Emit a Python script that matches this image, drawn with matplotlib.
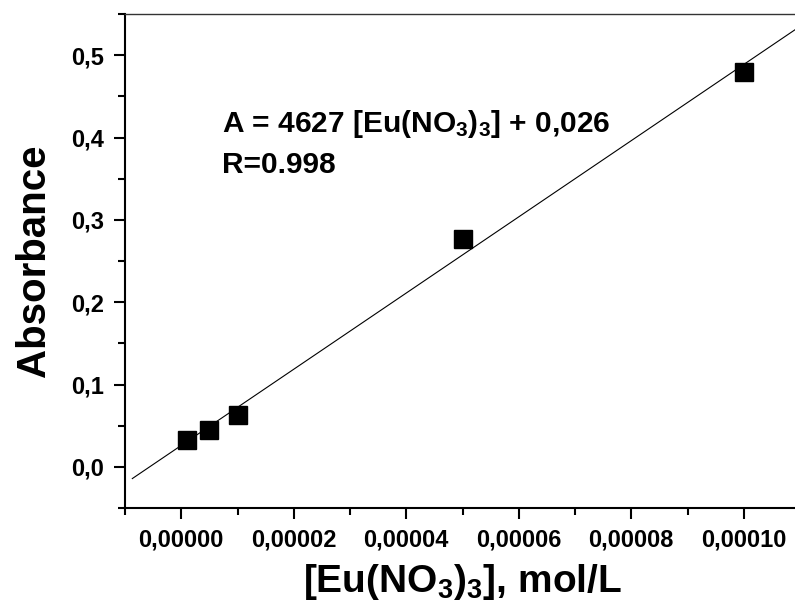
import matplotlib
matplotlib.use("Agg")
import matplotlib.pyplot as plt
import numpy as np
from matplotlib.ticker import MultipleLocator, FuncFormatter

plt.rcParams['font.family'] = ['Liberation Sans', 'DejaVu Sans']
plt.rcParams['font.weight'] = 'bold'
plt.rcParams['mathtext.fontset'] = 'custom'
plt.rcParams['mathtext.rm'] = 'Liberation Sans:bold'
plt.rcParams['mathtext.it'] = 'Liberation Sans:bold'
plt.rcParams['mathtext.bf'] = 'Liberation Sans:bold'
plt.rcParams['mathtext.default'] = 'rm'

# measured data
conc = [1e-6, 5e-6, 1e-5, 5e-5, 1e-4]
absorb = [0.033, 0.045, 0.063, 0.277, 0.479]

# linear fit from the paper
slope = 4627
intercept = 0.026
fit_x = [-8.7e-6, 1.12e-4]

fig = plt.figure(figsize=(7.95, 6.08), dpi=100)
ax = fig.add_axes([125 / 795, 100 / 608, 675 / 795, 494 / 608])

fx = np.array(fit_x)
ax.plot(fx, slope * fx + intercept, color='black', linewidth=0.8, zorder=2)
ax.plot(conc, absorb, 's', color='black', markersize=13.5, zorder=3)

ax.set_xlim(-1e-5, 1.1e-4)
ax.set_ylim(-0.05, 0.55)

ax.xaxis.set_major_locator(MultipleLocator(2e-5))
ax.xaxis.set_minor_locator(MultipleLocator(1e-5))
ax.yaxis.set_major_locator(MultipleLocator(0.1))
ax.yaxis.set_minor_locator(MultipleLocator(0.05))
ax.xaxis.set_major_formatter(FuncFormatter(lambda v, p: ('%.5f' % v).replace('.', ',').replace('-0,00000', '0,00000')))
ax.yaxis.set_major_formatter(FuncFormatter(lambda v, p: ('%.1f' % v).replace('.', ',').replace('-0,0', '0,0')))

ax.tick_params(which='both', direction='out', width=1.5, top=False, right=False)
ax.tick_params(which='major', length=8, labelsize=17, pad=7)
ax.tick_params(which='minor', length=5)

ax.spines['left'].set_linewidth(1.5)
ax.spines['bottom'].set_linewidth(1.5)
ax.spines['top'].set_linewidth(1.0)
ax.spines['top'].set_color('#333333')
ax.spines['right'].set_visible(False)

ax.set_xlabel('[Eu(NO$_3$)$_3$], mol/L', fontsize=28, fontweight='bold', labelpad=7)
ax.set_ylabel('Absorbance', fontsize=29, fontweight='bold', labelpad=13)

ax.text(222 / 795, 1 - 132 / 608, 'A = 4627 [Eu(NO$_3$)$_3$] + 0,026', transform=fig.transFigure,
        fontsize=21.5, fontweight='bold', va='baseline', ha='left')
ax.text(222 / 795, 1 - 173 / 608, 'R=0.998', transform=fig.transFigure,
        fontsize=21.5, fontweight='bold', va='baseline', ha='left')

fig.savefig('out.png', dpi=100)
